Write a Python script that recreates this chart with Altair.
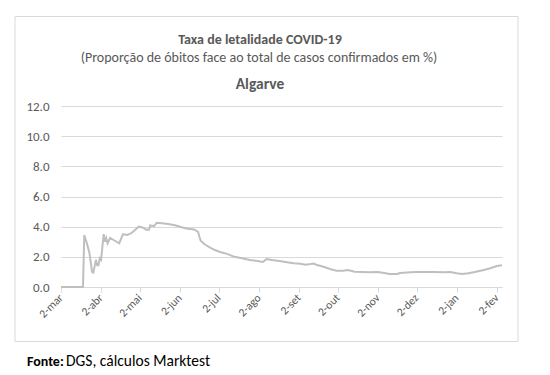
import altair as alt
import pandas as pd

# Data (Algarve COVID-19 lethality rate, %)
dates = [
    "2020-03-02", "2020-03-19", "2020-03-20", "2020-03-22", "2020-03-24", "2020-03-26",
    "2020-03-27", "2020-03-29", "2020-03-30", "2020-03-31", "2020-04-01", "2020-04-02",
    "2020-04-04", "2020-04-05", "2020-04-06", "2020-04-07", "2020-04-09", "2020-04-13",
    "2020-04-16", "2020-04-19", "2020-04-22", "2020-04-25", "2020-04-28", "2020-05-01",
    "2020-05-04", "2020-05-07", "2020-05-09", "2020-05-10", "2020-05-13", "2020-05-15",
    "2020-05-19", "2020-05-24", "2020-05-30", "2020-06-04", "2020-06-08", "2020-06-13",
    "2020-06-16", "2020-06-17", "2020-06-18", "2020-06-21", "2020-06-25", "2020-06-29",
    "2020-07-03", "2020-07-09", "2020-07-14", "2020-07-20", "2020-07-26", "2020-08-01",
    "2020-08-05", "2020-08-08", "2020-08-12", "2020-08-18", "2020-08-25", "2020-08-29",
    "2020-09-03", "2020-09-07", "2020-09-11", "2020-09-13", "2020-09-16", "2020-09-21",
    "2020-09-26", "2020-10-01", "2020-10-06", "2020-10-10", "2020-10-15", "2020-10-21",
    "2020-10-27", "2020-11-02", "2020-11-08", "2020-11-11", "2020-11-17", "2020-11-19",
    "2020-11-22", "2020-11-27", "2020-12-02", "2020-12-07", "2020-12-15", "2020-12-23",
    "2020-12-28", "2021-01-02", "2021-01-06", "2021-01-11", "2021-01-16", "2021-01-23",
    "2021-01-28", "2021-02-02", "2021-02-06",
]
rates = [
    0.0, 0.0, 3.45, 2.9, 2.25, 1.0,
    0.95, 1.8, 1.45, 1.45, 1.9, 1.8,
    3.5, 3.0, 3.25, 2.9, 3.25, 3.05,
    2.9, 3.5, 3.45, 3.55, 3.77, 4.0,
    3.95, 3.8, 3.8, 4.08, 4.04, 4.26,
    4.22, 4.17, 4.08, 3.95, 3.86, 3.82,
    3.66, 3.33, 3.07, 2.83, 2.63, 2.45,
    2.32, 2.18, 2.0, 1.9, 1.79, 1.72,
    1.66, 1.85, 1.79, 1.72, 1.63, 1.57,
    1.54, 1.48, 1.52, 1.55, 1.46, 1.34,
    1.19, 1.08, 1.08, 1.13, 1.01, 0.99,
    0.97, 0.99, 0.91, 0.86, 0.86, 0.93,
    0.95, 0.97, 0.99, 0.99, 0.99, 0.97,
    0.99, 0.91, 0.86, 0.91, 0.99, 1.13,
    1.24, 1.39, 1.44,
]
y_ticks = [0, 2, 4, 6, 8, 10, 12]
tick_months = [(2020, m) for m in range(3, 13)] + [(2021, 1), (2021, 2)]
month_names = ["jan", "fev", "mar", "abr", "mai", "jun", "jul", "ago", "set", "out", "nov", "dez"]

title_1 = "Taxa de letalidade COVID-19"
title_2 = "(Proporção de óbitos face ao total de casos confirmados em %)"
title_3 = "Algarve"
source_bold = "Fonte:"
source_rest = "DGS, cálculos Marktest"

FONT = "Carlito, Calibri, Lato, sans-serif"
GREY_TXT = "#595959"

df = pd.DataFrame({"data": dates, "taxa": rates})
one = pd.DataFrame({"k": [0]})

labels_js = "[" + ",".join("'%s'" % m for m in month_names) + "]"

x_enc = alt.X(
    "data:T",
    scale=alt.Scale(
        type="utc",
        domain=[alt.DateTime(year=2020, month=3, date=2, utc=True),
                alt.DateTime(year=2021, month=2, date=6, utc=True)],
    ),
    axis=alt.Axis(
        title=None,
        values=[alt.DateTime(year=y, month=m, date=2, utc=True) for y, m in tick_months],
        labelExpr="'2-' + " + labels_js + "[utcmonth(datum.value)]",
        labelAngle=-45,
        labelAlign="right",
        labelBaseline="middle",
        labelPadding=4,
        labelFont=FONT,
        labelFontSize=11.5,
        labelColor=GREY_TXT,
        grid=False,
        domainColor="#d9d9d9",
        tickColor="#d9d9d9",
        tickSize=5,
    ),
)

y_enc = alt.Y(
    "taxa:Q",
    scale=alt.Scale(domain=[0, 12], nice=False),
    axis=alt.Axis(
        title=None,
        values=y_ticks,
        format=".1f",
        domain=False,
        ticks=False,
        labelPadding=12,
        labelFont=FONT,
        labelFontSize=13,
        labelColor=GREY_TXT,
        gridColor="#d9d9d9",
        gridWidth=1,
    ),
)

line = alt.Chart(df).mark_line(color="#bfbfbf", strokeWidth=2).encode(x=x_enc, y=y_enc)

frame = alt.Chart(one).mark_rect(fill=None, stroke="#d9d9d9", strokeWidth=1).encode(
    x=alt.value(-46), x2=alt.value(457), y=alt.value(-89.5), y2=alt.value(235.5)
)

t1 = alt.Chart(one).mark_text(font=FONT, fontSize=14, fontWeight="bold", color=GREY_TXT,
                              align="center", baseline="alphabetic").encode(
    x=alt.value(199), y=alt.value(-62), text=alt.value(title_1))
t2 = alt.Chart(one).mark_text(font=FONT, fontSize=14, color=GREY_TXT,
                              align="center", baseline="alphabetic").encode(
    x=alt.value(198), y=alt.value(-44), text=alt.value(title_2))
t3 = alt.Chart(one).mark_text(font=FONT, fontSize=15.5, fontWeight="bold", color=GREY_TXT,
                              align="center", baseline="alphabetic").encode(
    x=alt.value(199), y=alt.value(-17), text=alt.value(title_3))
s1 = alt.Chart(one).mark_text(font=FONT, fontSize=14, fontWeight="bold", color="#000000",
                              align="left", baseline="alphabetic").encode(
    x=alt.value(-34), y=alt.value(260), text=alt.value(source_bold))
s2 = alt.Chart(one).mark_text(font=FONT, fontSize=15.5, color="#000000",
                              align="left", baseline="alphabetic").encode(
    x=alt.value(5), y=alt.value(260), text=alt.value(source_rest))

chart = alt.layer(frame, line, t1, t2, t3, s1, s2).properties(
    width=441,
    height=181,
    autosize=alt.AutoSizeParams(type="none"),
    padding={"left": 53, "top": 98, "right": 40, "bottom": 86},
).configure_view(stroke=None)

chart.save("out.html", embed_options={"renderer": "svg", "actions": False})
